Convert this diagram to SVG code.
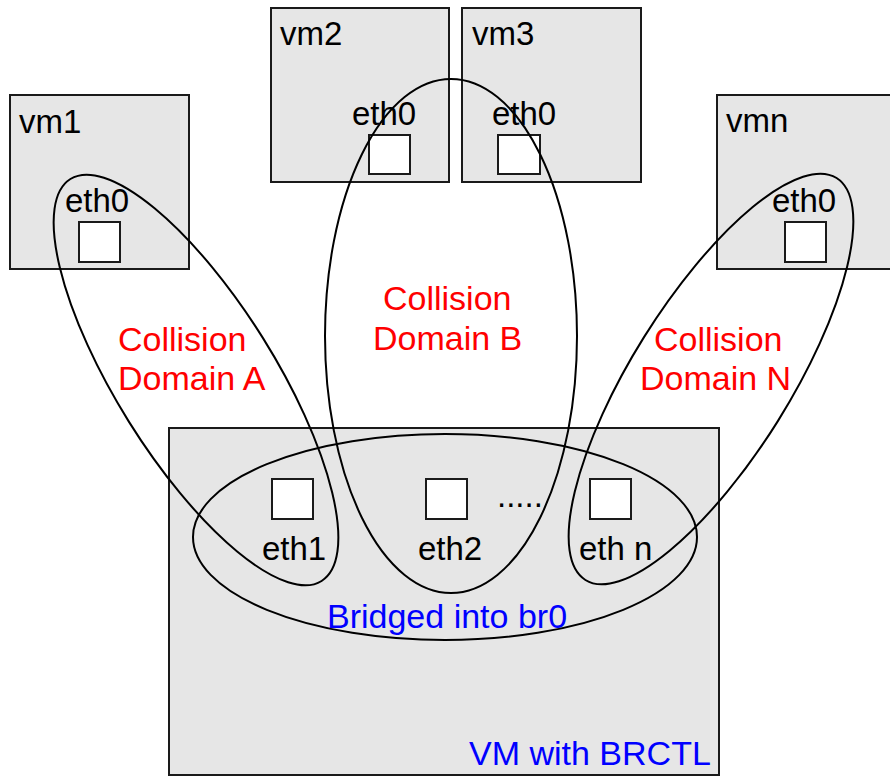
<svg xmlns="http://www.w3.org/2000/svg" width="890" height="776" viewBox="0 0 890 776">
<style>
.vm{fill:#e6e6e6;stroke:#1a1a1a;stroke-width:2}
.port{fill:#ffffff;stroke:#1a1a1a;stroke-width:2}
.cd{fill:none;stroke:#000;stroke-width:2}
.lbl{font-family:"Liberation Sans",Arial,sans-serif;font-size:33px;fill:#000}
.red{font-family:"Liberation Sans",Arial,sans-serif;font-size:34px;fill:#ff0000}
.blue{font-family:"Liberation Sans",Arial,sans-serif;font-size:34px;fill:#0000ff}
</style>
<rect width="890" height="776" fill="#ffffff"/>
<g id="host">
<rect class="vm" x="169" y="428" width="550" height="347"/>
<text class="blue" x="469" y="765">VM with BRCTL</text>
<rect class="port" x="272" y="479" width="41" height="40"/>
<text class="lbl" x="262" y="560">eth1</text>
<rect class="port" x="426" y="479" width="41" height="40"/>
<text class="lbl" x="418" y="560">eth2</text>
<text class="lbl" x="497" y="507">.....</text>
<rect class="port" x="590" y="479" width="41" height="40"/>
<text class="lbl" x="579" y="560">eth n</text>
<text class="blue" x="327" y="628">Bridged into br0</text>
</g>
<g id="vm1">
<rect class="vm" x="10" y="95" width="179" height="174"/>
<text class="lbl" x="19" y="133">vm1</text>
<text class="lbl" x="65" y="212">eth0</text>
<rect class="port" x="79" y="222" width="41" height="40"/>
</g>
<g id="vm2">
<rect class="vm" x="271" y="8" width="178" height="174"/>
<text class="lbl" x="280" y="45">vm2</text>
<text class="lbl" x="352" y="125">eth0</text>
<rect class="port" x="369" y="135" width="41" height="39"/>
</g>
<g id="vm3">
<rect class="vm" x="462" y="8" width="179" height="174"/>
<text class="lbl" x="472" y="45">vm3</text>
<text class="lbl" x="492" y="125">eth0</text>
<rect class="port" x="498" y="135" width="42" height="39"/>
</g>
<g id="vmn">
<rect class="vm" x="717" y="95" width="185" height="174"/>
<text class="lbl" x="726" y="132">vmn</text>
<text class="lbl" x="772" y="212">eth0</text>
<rect class="port" x="785" y="222" width="41" height="40"/>
</g>
<g id="connectors">
<ellipse class="cd" cx="196" cy="380" rx="237" ry="79" transform="rotate(58 196 380)"/>
<ellipse class="cd" cx="451" cy="336" rx="126" ry="257"/>
<ellipse class="cd" cx="711" cy="379" rx="237" ry="79" transform="rotate(-58 711 379)"/>
<ellipse class="cd" cx="445" cy="537" rx="252" ry="103"/>
</g>
<g id="labels">
<text class="red" x="118" y="351">Collision</text>
<text class="red" x="118" y="390">Domain A</text>
<text class="red" x="383" y="310">Collision</text>
<text class="red" x="373" y="350">Domain B</text>
<text class="red" x="654" y="351">Collision</text>
<text class="red" x="640" y="390">Domain N</text>
</g>
</svg>
